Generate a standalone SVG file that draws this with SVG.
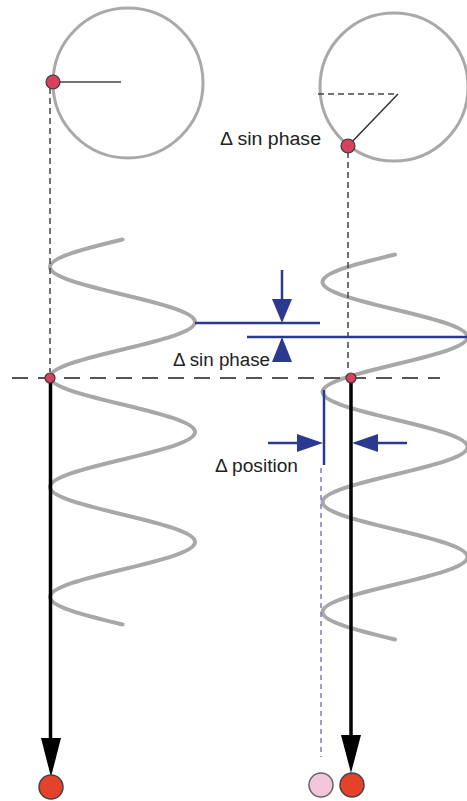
<svg xmlns="http://www.w3.org/2000/svg" width="467" height="801" viewBox="0 0 467 801">
<style>
.circ{fill:none;stroke:#a9a9a9;stroke-width:3}
.wave{fill:none;stroke:#a8a8a8;stroke-width:4;stroke-linecap:round}
.dash{fill:none;stroke:#444;stroke-width:1.5;stroke-dasharray:6 4}
.hdash{fill:none;stroke:#555;stroke-width:1.8;stroke-dasharray:16 10}
.dot{fill:#d8405f;stroke:#3a3a3a;stroke-width:1.2}
.blue{stroke:#2b3990;stroke-width:2.5;fill:none}
.bluefill{fill:#2b3990}
.blk{stroke:#000;stroke-width:3.5;fill:none}
.lbl{font-family:"Liberation Sans",Arial,sans-serif;font-size:18px;fill:#222}
</style>
<defs>
<path id="wavepath" d="M122.5,239.5 C85.36,248.47 50,257.05 50,267 C50,276.95 85.36,285.53 122.5,294.5 C159.64,303.47 195,312.05 195,322 C195,331.95 159.64,340.53 122.5,349.5 C85.36,358.47 50,367.05 50,377 C50,386.95 85.36,395.53 122.5,404.5 C159.64,413.47 195,422.05 195,432 C195,441.95 159.64,450.53 122.5,459.5 C85.36,468.47 50,477.05 50,487 C50,496.95 85.36,505.53 122.5,514.5 C159.64,523.47 195,532.05 195,542 C195,551.95 159.64,560.53 122.5,569.5 C85.36,578.47 50,587.05 50,597 C50,606.95 85.36,615.53 122.5,624.5"/>
</defs>

<g id="left-circle">
<circle class="circ" cx="128" cy="83" r="75"/>
<line x1="53" y1="82" x2="121" y2="82" stroke="#444" stroke-width="1.5"/>
</g>
<g id="right-circle">
<circle class="circ" cx="394" cy="87" r="74"/>
<line x1="318" y1="94" x2="398" y2="94" stroke="#444" stroke-width="1.5" stroke-dasharray="6 4"/>
<line x1="398" y1="94" x2="348" y2="146" stroke="#333" stroke-width="1.5"/>
</g>

<g id="left-wave"><use href="#wavepath" class="wave"/></g>
<g id="right-wave"><use href="#wavepath" class="wave" transform="translate(272.5,15)"/></g>

<g id="connectors">
<line class="dash" x1="50" y1="88" x2="50" y2="372"/>
<line class="dash" x1="348" y1="152" x2="348" y2="372"/>
<line class="hdash" x1="12" y1="378" x2="440" y2="378"/>
<!-- black arrows -->
<line class="blk" x1="50.5" y1="378" x2="50.5" y2="742"/>
<polygon points="41,738 61,738 51,777" fill="#000"/>
<line class="blk" x1="351" y1="378" x2="351" y2="740"/>
<polygon points="341,735 361,735 351,773" fill="#000"/>
<!-- sin phase dimension -->
<line class="blue" x1="195" y1="323" x2="320" y2="323"/>
<line class="blue" x1="247" y1="337" x2="467" y2="337"/>
<line class="blue" x1="282" y1="270" x2="282" y2="302"/>
<polygon class="bluefill" points="272,299 292,299 282,323"/>
<polygon class="bluefill" points="272,362 292,362 282,337"/>
<!-- position dimension -->
<line class="blue" x1="324" y1="390" x2="324" y2="465"/>
<line x1="321" y1="468" x2="321" y2="757" stroke="#7b7bcc" stroke-width="1.5" stroke-dasharray="5 4"/>
<line class="blue" x1="268" y1="443" x2="300" y2="443"/>
<polygon class="bluefill" points="297,434 297,452 323,443"/>
<line class="blue" x1="407" y1="443" x2="375" y2="443"/>
<polygon class="bluefill" points="378,434 378,452 352,443"/>
</g>

<g id="dots">
<circle class="dot" cx="53" cy="82" r="7"/>
<circle class="dot" cx="348" cy="146" r="7"/>
<circle class="dot" cx="50" cy="378" r="5"/>
<circle class="dot" cx="351" cy="378" r="5"/>
</g>

<g id="end-balls">
<circle cx="51" cy="787" r="12" fill="#e4422a" stroke="#444" stroke-width="1.5"/>
<circle cx="321" cy="785" r="12" fill="#f3c6da" stroke="#666" stroke-width="1.5"/>
<circle cx="352" cy="785" r="12" fill="#e4422a" stroke="#444" stroke-width="1.5"/>
</g>

<g id="labels">
<text class="lbl" x="220" y="145" textLength="101" lengthAdjust="spacingAndGlyphs">Δ sin phase</text>
<text class="lbl" x="173" y="366" textLength="97" lengthAdjust="spacingAndGlyphs">Δ sin phase</text>
<text class="lbl" x="215" y="472" textLength="83" lengthAdjust="spacingAndGlyphs">Δ position</text>
</g>
</svg>
